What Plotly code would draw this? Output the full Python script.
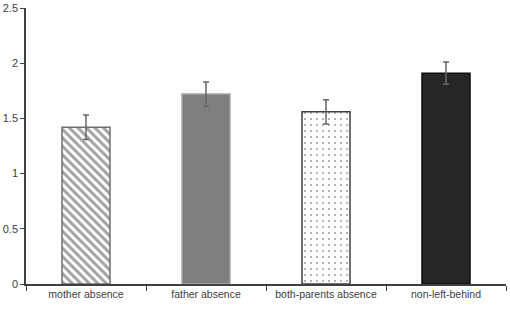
import plotly.graph_objects as go

categories = ["mother absence", "father absence", "both-parents absence", "non-left-behind"]
means = [1.42, 1.72, 1.56, 1.91]
errors = [0.11, 0.11, 0.11, 0.10]

fill_colors = ["white", "#7f7f7f", "white", "#262626"]
line_colors = ["#6f6f6f", "#a6a6a6", "#404040", "#0d0d0d"]
pattern_shapes = ["\\", "", ".", ""]
pattern_fg = ["#555555", "#7f7f7f", "#333333", "#262626"]
pattern_solidity = [0.5, 0.5, 0.1, 0.5]
pattern_size = [6, 6, 6, 6]

fig = go.Figure()
fig.add_trace(go.Bar(
    x=categories,
    y=means,
    width=0.4,
    marker=dict(
        color=fill_colors,
        line=dict(color=line_colors, width=1.5),
        pattern=dict(shape=pattern_shapes, fgcolor=pattern_fg, bgcolor=fill_colors,
                     size=pattern_size, solidity=pattern_solidity, fillmode="overlay"),
    ),
    error_y=dict(type="data", array=errors, visible=True, color="#666666",
                 thickness=1.5, width=3),
))

font = dict(family="Liberation Sans Narrow, Liberation Sans, sans-serif", size=10.5, color="#404040")
fig.update_layout(
    width=510, height=311,
    margin=dict(l=26, r=4, t=8, b=27),
    paper_bgcolor="white", plot_bgcolor="white",
    showlegend=False,
    font=font,
)
fig.update_xaxes(
    showgrid=False, showline=True, linecolor="#404040", linewidth=1.5,
    ticks="outside", tickson="boundaries", ticklen=5, tickcolor="#404040",
    range=[-0.5, 3.5], tickfont=font, automargin=False,
)
fig.update_yaxes(
    range=[0, 2.5], dtick=0.5, showgrid=False, zeroline=False,
    showline=True, linecolor="#404040", linewidth=1.5,
    ticks="outside", ticklen=4, tickcolor="#404040",
    tickfont=dict(family=font["family"], size=11, color="#404040"),
    tickformat="~g", automargin=False,
)
fig.write_html("out.html", config={"displayModeBar": False},
               post_script="document.body.style.margin='0';")
